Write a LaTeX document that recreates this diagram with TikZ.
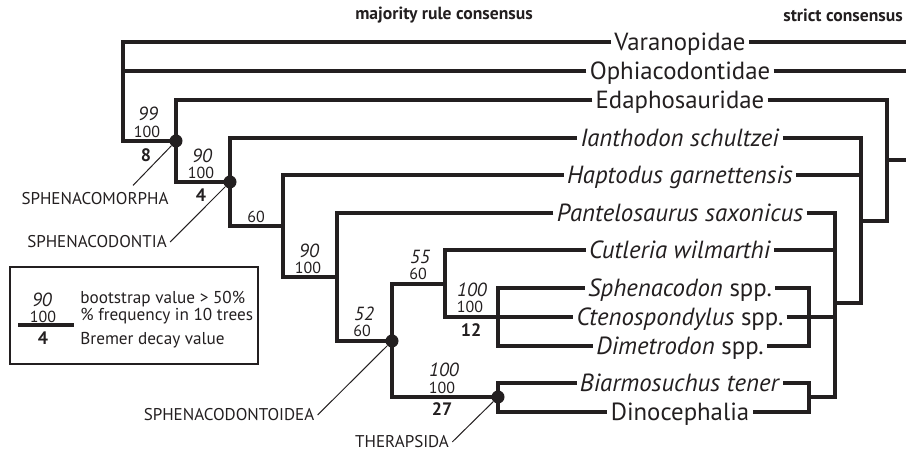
\documentclass[tikz,border=0pt]{standalone}
\usepackage{fontspec}
\setmainfont{PT Sans}
\usetikzlibrary{positioning}

\definecolor{ink}{HTML}{231F20}

\tikzset{
	branch/.style  = {line width=1.6pt, line join=miter},
	callout/.style = {line width=0.5pt},
	dot/.style     = {circle, fill, inner sep=0pt, minimum size=6.5pt},
	taxon/.style   = {font=\fontsize{12.4}{14}\selectfont, inner xsep=1.5pt, inner ysep=0pt, text height=8.2pt, text depth=0pt},
	boot/.style    = {font=\fontsize{9.5}{11}\selectfont\itshape, inner sep=0pt},
	freq/.style    = {font=\fontsize{8}{10}\selectfont, inner sep=0pt},
	brem/.style    = {font=\fontsize{9}{11}\selectfont\bfseries, inner sep=0pt},
	clade/.style   = {font=\fontsize{8.5}{10}\selectfont, inner sep=1.5pt},
	legtext/.style = {font=\fontsize{8.6}{10}\selectfont, anchor=west, inner sep=0pt, text height=6pt, text depth=0pt},
	header/.style  = {font=\fontsize{8.8}{10}\selectfont\bfseries, inner sep=0pt}
}

\begin{document}
\begin{tikzpicture}[x=0.5pt, y=-0.5pt, color=ink]
	\useasboundingbox (0,0) rectangle (906,453);

	\node[header] (majr) at (444,15) {majority rule consensus};
	\node[header] (strc) at (843,15) {strict consensus};

	\node[taxon] (varan) at (680,42)  {Varanopidae};
	\node[taxon] (ophia) at (680,71)  {Ophiacodontidae};
	\node[taxon] (edaph) at (680,100) {Edaphosauridae};
	\node[taxon] (ianth) at (680,138) {\textit{Ianthodon schultzei}};
	\node[taxon] (hapto) at (680,175) {\textit{Haptodus garnettensis}};
	\node[taxon] (pante) at (680,213) {\textit{Pantelosaurus saxonicus}};
	\node[taxon] (cutle) at (680,250) {\textit{Cutleria wilmarthi}};
	\node[taxon] (sphen) at (680,288) {\textit{Sphenacodon} spp.};
	\node[taxon] (cteno) at (680,317) {\textit{Ctenospondylus} spp.};
	\node[taxon] (dimet) at (680,346) {\textit{Dimetrodon} spp.};
	\node[taxon] (biarm) at (680,383) {\textit{Biarmosuchus tener}};
	\node[taxon] (dinoc) at (680,412) {Dinocephalia};

	\coordinate (root) at (123,141);
	\node[dot] (sphm) at (176,141) {};
	\node[dot] (spht) at (230,182) {};
	\coordinate (n3) at (283,226);
	\coordinate (n4) at (337,277);
	\node[dot] (sphd) at (392,341) {};
	\coordinate (n6) at (445,284);
	\coordinate (n7) at (498,317);
	\node[dot] (ther) at (498,397) {};

	\coordinate (sroot) at (906,160);
	\coordinate (s1) at (887,160);
	\coordinate (s2) at (861,221);
	\coordinate (s3) at (835,303);
	\coordinate (s4) at (809,317);
	\coordinate (s5) at (809,397);

	\draw[branch] (varan.west) -| (root) -- (sphm.center);
	\draw[branch] (ophia.west) -| (root);
	\draw[branch] (edaph.west) -| (sphm.center) |- (spht.center);
	\draw[branch] (ianth.west) -| (spht.center) |- (n3);
	\draw[branch] (hapto.west) -| (n3) |- (n4);
	\draw[branch] (pante.west) -| (n4) |- (sphd.center);
	\draw[branch] (n6) -| (sphd.center) |- (ther.center);
	\draw[branch] (cutle.west) -| (n6) |- (n7) -- (cteno.west);
	\draw[branch] (sphen.west) -| (n7) |- (dimet.west);
	\draw[branch] (biarm.west) -| (ther.center) |- (dinoc.west);

	\draw[branch] (varan.east) -- (varan.east -| sroot);
	\draw[branch] (ophia.east) -- (ophia.east -| sroot);
	\draw[branch] (edaph.east) -| (s1) |- (s2);
	\draw[branch] (s1) -- (sroot);
	\draw[branch] (ianth.east) -| (s2) |- (s3);
	\draw[branch] (hapto.east) -| (s2);
	\draw[branch] (pante.east) -| (s3) |- (s5);
	\draw[branch] (cutle.east) -| (s3);
	\draw[branch] (cteno.east) -| (s3);
	\draw[branch] (sphen.east) -| (s4) |- (dimet.east);
	\draw[branch] (biarm.east) -| (s5) |- (dinoc.east);

	\node[boot] (b1) at (148,114) {99};
	\node[freq] (f1) at (147,132) {100};
	\node[brem] (d1) at (146,155) {8};
	\node[boot] (b2) at (202,156) {90};
	\node[freq] (f2) at (201,173) {100};
	\node[brem] (d2) at (201,195) {4};
	\node[freq] (f3) at (256,217) {60};
	\node[boot] (b4) at (309,251) {90};
	\node[freq] (f4) at (308,268) {100};
	\node[boot] (b5) at (364,314) {52};
	\node[freq] (f5) at (362,331) {60};
	\node[boot] (b6) at (420,257) {55};
	\node[freq] (f6) at (418,274) {60};
	\node[boot] (b7) at (472,290) {100};
	\node[freq] (f7) at (470,307) {100};
	\node[brem] (d7) at (471,330) {12};
	\node[boot] (b8) at (444,370) {100};
	\node[freq] (f8) at (442,388) {100};
	\node[brem] (d8) at (442,409) {27};

	\node[clade] (sphmlab) at (95,199)  {SPHENACOMORPHA};
	\node[clade] (sphtlab) at (97,242)  {SPHENACODONTIA};
	\node[clade] (sphdlab) at (229,415) {SPHENACODONTOIDEA};
	\node[clade] (therlab) at (402,442) {THERAPSIDA};

	\draw[callout] ([xshift=19pt,yshift=2pt]sphmlab.north) -- (sphm);
	\draw[callout] (sphtlab.east) -- (spht);
	\draw[callout] (sphdlab.east) -- (sphd);
	\draw[callout] (therlab.east) -- (ther);

	\draw[line width=0.8pt] (10,267) rectangle (258,364);
	\node[boot] (lb) at (42,300) {90};
	\node[freq] (lf) at (43,317) {100};
	\draw[branch] (18,325) -- (74,325);
	\node[brem] (ld) at (43,338) {4};
	\node[legtext] (lt1) at (80,298) {bootstrap value > 50\%};
	\node[legtext] (lt2) at (80,315) {\% frequency in 10 trees};
	\node[legtext] (lt3) at (80,339) {Bremer decay value};
\end{tikzpicture}
\end{document}
